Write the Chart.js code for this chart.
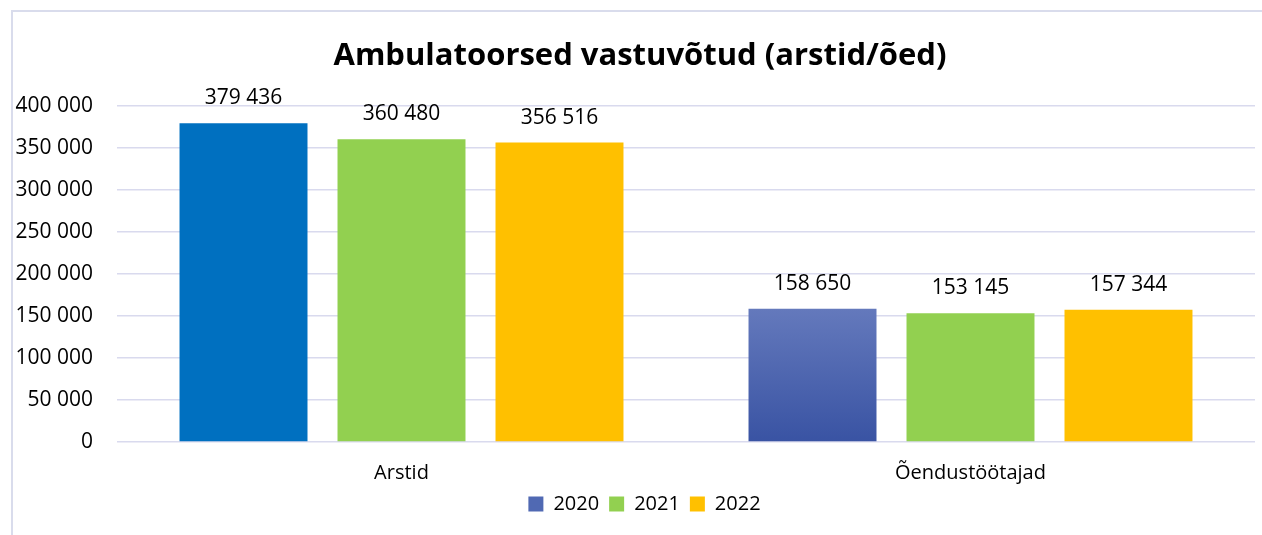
<!DOCTYPE html>
<html>
<head>
<meta charset="utf-8">
<script src="https://cdn.jsdelivr.net/npm/chart.js@4/dist/chart.umd.min.js"></script>
<style>
  html, body { margin: 0; padding: 0; background: #ffffff; overflow: hidden; }
  #frame { position: absolute; left: 11px; top: 10px; width: 1300px; height: 600px; border: 2px solid #D9DCEC; }
  #wrap { position: absolute; left: 0; top: 0; width: 1262px; height: 535px; }
</style>
</head>
<body>
<div id="frame"></div>
<div id="wrap"><canvas id="c" width="1262" height="535"></canvas></div>
<script>
const titleText = 'Ambulatoorsed vastuvõtud (arstid/õed)';
const categories = ['Arstid', 'Õendustöötajad'];
const seriesNames = ['2020', '2021', '2022'];
const values2020 = [379436, 158650];
const values2021 = [360480, 153145];
const values2022 = [356516, 157344];
const yTicks = [0, 50000, 100000, 150000, 200000, 250000, 300000, 350000, 400000];

const FONT = "'Open Sans', 'Liberation Sans', sans-serif";
const fmt = v => String(v).replace(/\B(?=(\d{3})+(?!\d))/g, ' ');

function color2020(ctx) {
  if (ctx.type === 'data' && ctx.dataIndex === 1) {
    const chart = ctx.chart;
    const y = chart.scales && chart.scales.y;
    if (!y) return '#4A64B0';
    const top = y.getPixelForValue(ctx.raw);
    const bot = y.getPixelForValue(0);
    const g = chart.ctx.createLinearGradient(0, top, 0, bot);
    g.addColorStop(0, '#6479BC');
    g.addColorStop(1, '#3953A3');
    return g;
  }
  return '#0070C0';
}

const dataLabels = {
  id: 'dataLabels',
  afterDatasetsDraw(chart) {
    const c = chart.ctx;
    c.save();
    c.font = '21px ' + FONT;
    c.fillStyle = '#000000';
    c.textAlign = 'center';
    c.textBaseline = 'middle';
    chart.data.datasets.forEach((ds, di) => {
      const meta = chart.getDatasetMeta(di);
      meta.data.forEach((bar, i) => {
        c.fillText(fmt(ds.data[i]), bar.x, bar.y - 25);
      });
    });
    c.restore();
  }
};

const chartTitle = {
  id: 'chartTitle',
  afterLayout(chart) {
    if (chart.legend) { chart.legend.left += 34; }
  },
  afterDraw(chart) {
    const c = chart.ctx;
    c.save();
    c.font = 'bold 31px ' + FONT;
    c.fillStyle = '#000000';
    c.textAlign = 'center';
    c.textBaseline = 'alphabetic';
    c.fillText(titleText, 640, 65);
    c.restore();
  }
};

new Chart(document.getElementById('c'), {
  type: 'bar',
  data: {
    labels: categories,
    datasets: [
      { label: seriesNames[0], data: values2020, backgroundColor: color2020 },
      { label: seriesNames[1], data: values2021, backgroundColor: '#92D050' },
      { label: seriesNames[2], data: values2022, backgroundColor: '#FFC000' }
    ]
  },
  options: {
    responsive: false,
    animation: false,
    devicePixelRatio: 1,
    datasets: { bar: { barPercentage: 0.81, categoryPercentage: 0.833 } },
    layout: { padding: { left: 0, right: 7, top: 106, bottom: 11 } },
    plugins: {
      title: { display: false },
      legend: {
        position: 'bottom',
        labels: {
          boxWidth: 15,
          boxHeight: 15,
          padding: 10,
          color: '#000000',
          font: { family: FONT, size: 20 },
          generateLabels(chart) {
            const cols = ['#5069B3', '#92D050', '#FFC000'];
            return chart.data.datasets.map((ds, i) => ({
              text: ds.label,
              fillStyle: cols[i],
              strokeStyle: cols[i],
              lineWidth: 0,
              hidden: false,
              datasetIndex: i
            }));
          }
        }
      },
      tooltip: { enabled: false }
    },
    scales: {
      x: {
        afterFit(s) { s.height = 42; },
        grid: { display: false, drawTicks: false },
        border: { display: false },
        ticks: { color: '#000000', padding: 19, font: { family: FONT, size: 20 } }
      },
      y: {
        min: 0,
        max: 400000,
        afterFit(s) { s.width = 117; },
        afterBuildTicks(s) { s.ticks = yTicks.map(v => ({ value: v })); },
        grid: { color: '#D9DAEE', lineWidth: 1.5, drawTicks: false },
        border: { display: false },
        ticks: {
          color: '#000000',
          padding: 24,
          font: { family: FONT, size: 21 },
          callback: v => fmt(v)
        }
      }
    }
  },
  plugins: [dataLabels, chartTitle]
});
</script>
</body>
</html>
